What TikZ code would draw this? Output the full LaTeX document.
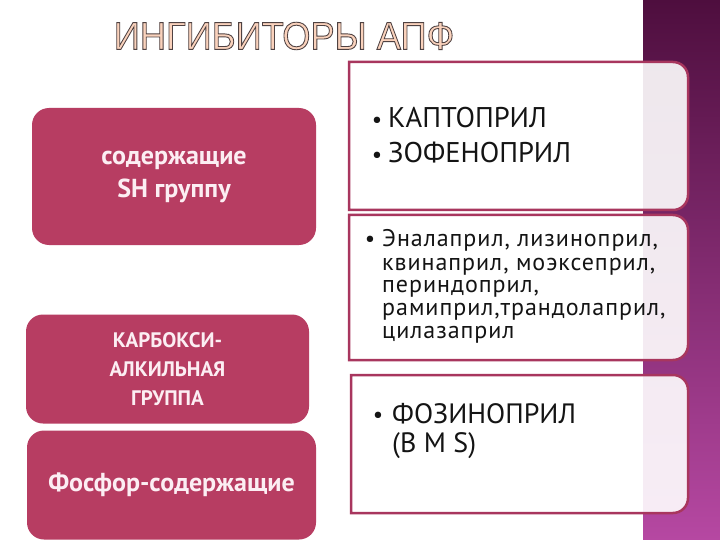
\documentclass[tikz,border=0pt]{standalone}
\usepackage{fontspec}
\setmainfont{PT Sans}
\newfontfamily\titlefont{Liberation Sans}
\newfontfamily\spacedfont[LetterSpace=4]{PT Sans}
\definecolor{rasp}{RGB}{183,61,98}
\definecolor{rborder}{RGB}{168,54,94}
\definecolor{striptop}{RGB}{78,14,62}
\definecolor{stripbot}{RGB}{182,72,162}
\definecolor{peach}{RGB}{250,210,188}
\definecolor{outl}{RGB}{80,66,66}
\definecolor{ltext}{RGB}{252,238,243}
\definecolor{dtext}{RGB}{20,20,20}
\newcommand\outlinetext[1]{{\color{peach}\special{pdf:literal direct 2 Tr 0.9 w 0.31 0.26 0.26 RG}#1\special{pdf:literal direct 0 Tr}}}
\tikzset{
  lbox/.style={fill=rasp, rounded corners=17pt, text=ltext, align=center, inner sep=0pt},
  rbox/.style={draw=rborder, line width=2.5pt, fill=white, fill opacity=0.9},
  rline/.style={text=dtext, anchor=base west, inner sep=0pt},
  rbul/.style={text=dtext, anchor=base, inner sep=0pt, font=\fontsize{23}{23}\selectfont},
  ttl/.style={font=\titlefont\fontsize{39}{39}\selectfont, inner sep=0pt},
}
\begin{document}
\begin{tikzpicture}[x=1pt,y=-1pt]
\useasboundingbox (0,0) rectangle (720,540);
\fill[white] (0,0) rectangle (720,540);
\shade[top color=striptop, bottom color=stripbot] (643,0) rectangle (720,540);

% title
\node[ttl] (title) at (284,36) {\scalebox{0.93}[1]{\outlinetext{ИНГИБИТОРЫ АПФ}}};

% left boxes
\node[lbox, minimum width=284pt, minimum height=137pt, font=\bfseries\fontsize{26}{33}\selectfont]
  (sh) at (174,176.5) {содержащие\\SH группу};
\node[lbox, minimum width=283pt, minimum height=109pt, font=\bfseries\fontsize{21}{29}\selectfont]
  (carb) at (167.5,369) {КАРБОКСИ-\\АЛКИЛЬНАЯ\\ГРУППА};
\node[lbox, minimum width=289pt, minimum height=109pt, font=\bfseries\fontsize{26}{26}\selectfont]
  (phos) at (171.5,485) {Фосфор-содержащие};

% right boxes
\draw[rbox] (349,62) -- (673,62) arc[start angle=-90,end angle=0,radius=15]
  -- (688,195) arc[start angle=0,end angle=90,radius=15] -- (349,210) -- cycle;
\draw[rbox] (349,215) -- (673,215) arc[start angle=-90,end angle=0,radius=15]
  -- (688,345) arc[start angle=0,end angle=90,radius=15] -- (349,360) -- cycle;
\draw[rbox] (351,375) -- (673,375) arc[start angle=-90,end angle=0,radius=15]
  -- (688,498) arc[start angle=0,end angle=90,radius=15] -- (351,513) -- cycle;

% box 1 text
\begin{scope}[font=\fontsize{28.5}{28.5}\selectfont]
\node[rbul] (b1a) at (377,128) {•};
\node[rline] (t1a) at (388,128) {КАПТОПРИЛ};
\node[rbul] (b1b) at (377,163) {•};
\node[rline] (t1b) at (388,163) {ЗОФЕНОПРИЛ};
\end{scope}

% box 2 text
\begin{scope}[font=\spacedfont\fontsize{24}{24}\selectfont]
\node[rbul] (b2) at (370,246) {•};
\node[rline] (t2a) at (382,247) {Эналаприл, лизиноприл,};
\node[rline] (t2b) at (382,270) {квинаприл, моэксеприл,};
\node[rline] (t2c) at (382,292) {периндоприл,};
\node[rline] (t2d) at (382,315) {рамиприл,трандолаприл,};
\node[rline] (t2e) at (382,338) {цилазаприл};
\end{scope}

% box 3 text
\begin{scope}[font=\fontsize{28}{28}\selectfont]
\node[rbul] (b3) at (378,422) {•};
\node[rline] (t3a) at (392,423) {ФОЗИНОПРИЛ};
\node[rline] (t3b) at (392,452) {(B M S)};
\end{scope}
\end{tikzpicture}
\end{document}
